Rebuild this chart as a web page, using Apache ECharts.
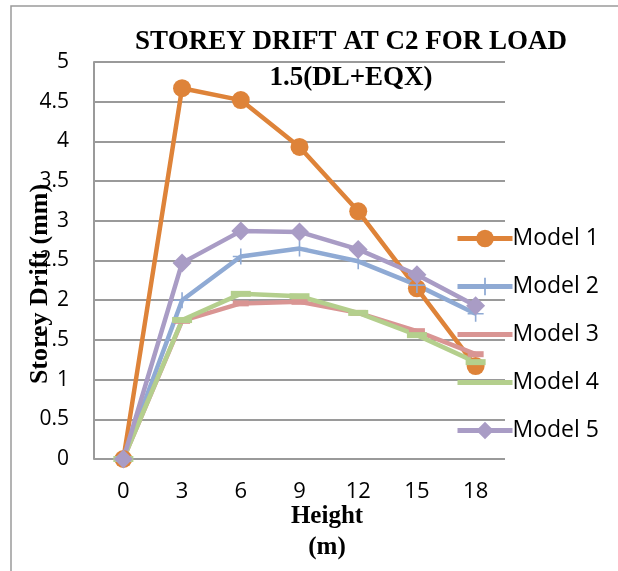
<!DOCTYPE html>
<html>
<head>
<meta charset="utf-8">
<script src="https://cdn.jsdelivr.net/npm/echarts@6/dist/echarts.min.js"></script>
<style>
  html, body { margin: 0; padding: 0; background: #fff; }
  #chart { width: 618px; height: 571px; }
</style>
</head>
<body>
<div id="chart"></div>
<script>
// Storey drift (mm) at column C2 for load combination 1.5(DL+EQX)
const heights = ['0', '3', '6', '9', '12', '15', '18'];
const model1 = [0, 4.67, 4.52, 3.93, 3.12, 2.15, 1.17];
const model2 = [0, 2.00, 2.55, 2.65, 2.49, 2.19, 1.83];
const model3 = [0, 1.74, 1.96, 1.98, 1.84, 1.61, 1.32];
const model4 = [0, 1.75, 2.08, 2.05, 1.84, 1.56, 1.22];
const model5 = [0, 2.47, 2.87, 2.86, 2.64, 2.32, 1.93];

const chart = echarts.init(document.getElementById('chart'), null, { renderer: 'canvas' });

const serif = '"Liberation Serif", "Times New Roman", serif';
const sans = '"Open Sans", "Noto Sans", sans-serif';
const plusPath = 'path://M9,0h2v20h-2z M0,9h20v2h-20z';

function mk(name, data, color, symbol, size) {
  return {
    name: name,
    type: 'line',
    data: data,
    symbol: symbol,
    symbolSize: size,
    showAllSymbol: true,
    lineStyle: { color: color, width: 4.5 },
    itemStyle: { color: color, borderWidth: 0 },
    emphasis: { disabled: true },
    animation: false
  };
}

chart.setOption({
  backgroundColor: '#ffffff',
  title: {
    text: 'STOREY DRIFT AT C2 FOR LOAD\n1.5(DL+EQX)',
    left: 346,
    top: 19,
    textAlign: 'center',
    textStyle: {
      fontFamily: serif,
      fontWeight: 'bold',
      fontSize: 27,
      lineHeight: 36,
      color: '#000'
    }
  },
  legend: {
    orient: 'vertical',
    left: 450,
    top: 222,
    itemWidth: 55,
    itemHeight: 22,
    itemGap: 25,
    lineStyle: { width: 5 },
    textStyle: { fontFamily: sans, fontSize: 23, color: '#000', padding: [0, 0, 0, -5] },
    data: [
      { name: 'Model 1' },
      { name: 'Model 2' },
      { name: 'Model 3', itemStyle: { opacity: 0 } },
      { name: 'Model 4', itemStyle: { opacity: 0 } },
      { name: 'Model 5' }
    ]
  },
  grid: { left: 94, right: 113, top: 62, bottom: 112, containLabel: false },
  xAxis: {
    type: 'category',
    data: heights,
    boundaryGap: true,
    axisLine: { show: false },
    axisTick: { show: false },
    axisLabel: { fontFamily: sans, fontSize: 22, color: '#000', margin: 22 }
  },
  yAxis: {
    type: 'value',
    min: 0,
    max: 5,
    interval: 0.5,
    axisLine: { show: true, lineStyle: { color: '#9a9a9a', width: 2 } },
    axisTick: { show: false },
    splitLine: { lineStyle: { color: '#9a9a9a', width: 2 } },
    axisLabel: { fontFamily: sans, fontSize: 21, color: '#000', margin: 25 }
  },
  graphic: [
    {
      type: 'rect',
      shape: { x: 11, y: 6, width: 700, height: 700 },
      style: { fill: 'none', stroke: '#9a9a9a', lineWidth: 1.5 },
      silent: true,
      z: -10
    },
    {
      type: 'text',
      x: 40,
      y: 284,
      rotation: Math.PI / 2,
      style: {
        text: 'Storey Drift (mm)',
        fontFamily: serif,
        fontWeight: 'bold',
        fontSize: 26,
        fill: '#000',
        align: 'center',
        verticalAlign: 'middle'
      },
      z: 100
    },
    {
      type: 'text',
      x: 327,
      y: 532,
      style: {
        text: 'Height\n(m)',
        fontFamily: serif,
        fontWeight: 'bold',
        fontSize: 25,
        lineHeight: 31,
        fill: '#000',
        align: 'center',
        verticalAlign: 'middle'
      },
      z: 100
    }
  ],
  series: [
    mk('Model 1', model1, '#DE8339', 'circle', 18),
    mk('Model 2', model2, '#8FAAD4', plusPath, 16),
    mk('Model 3', model3, '#D99593', 'rect', [16, 6]),
    mk('Model 4', model4, '#B4CF8D', 'rect', [20, 6]),
    mk('Model 5', model5, '#A99CC5', 'diamond', 19)
  ]
});
</script>
</body>
</html>
